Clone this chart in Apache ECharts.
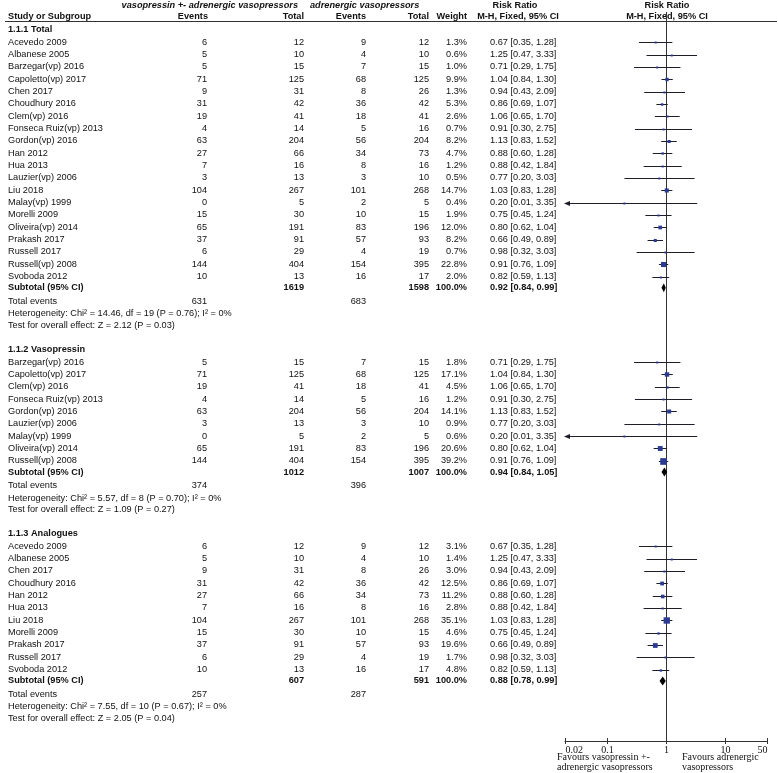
<!DOCTYPE html>
<html><head><meta charset="utf-8">
<script src="https://cdn.jsdelivr.net/npm/echarts@6/dist/echarts.min.js"></script>
<style>html,body{margin:0;padding:0;background:#fff}#c{width:778px;height:773px}</style>
</head><body><div id="c"></div>
<script>
// ---------- DATA ----------
const sectionTitles = ['1.1.1 Total', '1.1.2 Vasopressin', '1.1.3 Analogues'];

const names1 = ['Acevedo 2009','Albanese 2005','Barzegar(vp) 2016','Capoletto(vp) 2017','Chen 2017','Choudhury 2016','Clem(vp) 2016','Fonseca Ruiz(vp) 2013','Gordon(vp) 2016','Han 2012','Hua 2013','Lauzier(vp) 2006','Liu 2018','Malay(vp) 1999','Morelli 2009','Oliveira(vp) 2014','Prakash 2017','Russell 2017','Russell(vp) 2008','Svoboda 2012'];
const expEvents1 = [6,5,5,71,9,31,19,4,63,27,7,3,104,0,15,65,37,6,144,10];
const expTotal1  = [12,10,15,125,31,42,41,14,204,66,16,13,267,5,30,191,91,29,404,13];
const ctlEvents1 = [9,4,7,68,8,36,18,5,56,34,8,3,101,2,10,83,57,4,154,16];
const ctlTotal1  = [12,10,15,125,26,42,41,16,204,73,16,10,268,5,15,196,93,19,395,17];
const weights1   = [1.3,0.6,1.0,9.9,1.3,5.3,2.6,0.7,8.2,4.7,1.2,0.5,14.7,0.4,1.9,12.0,8.2,0.7,22.8,2.0];
const rr1   = [0.67,1.25,0.71,1.04,0.94,0.86,1.06,0.91,1.13,0.88,0.88,0.77,1.03,0.20,0.75,0.80,0.66,0.98,0.91,0.82];
const low1  = [0.35,0.47,0.29,0.84,0.43,0.69,0.65,0.30,0.83,0.60,0.42,0.20,0.83,0.01,0.45,0.62,0.49,0.32,0.76,0.59];
const high1 = [1.28,3.33,1.75,1.30,2.09,1.07,1.70,2.75,1.52,1.28,1.84,3.03,1.28,3.35,1.24,1.04,0.89,3.03,1.09,1.13];

const names2 = ['Barzegar(vp) 2016','Capoletto(vp) 2017','Clem(vp) 2016','Fonseca Ruiz(vp) 2013','Gordon(vp) 2016','Lauzier(vp) 2006','Malay(vp) 1999','Oliveira(vp) 2014','Russell(vp) 2008'];
const expEvents2 = [5,71,19,4,63,3,0,65,144];
const expTotal2  = [15,125,41,14,204,13,5,191,404];
const ctlEvents2 = [7,68,18,5,56,3,2,83,154];
const ctlTotal2  = [15,125,41,16,204,10,5,196,395];
const weights2   = [1.8,17.1,4.5,1.2,14.1,0.9,0.6,20.6,39.2];
const rr2   = [0.71,1.04,1.06,0.91,1.13,0.77,0.20,0.80,0.91];
const low2  = [0.29,0.84,0.65,0.30,0.83,0.20,0.01,0.62,0.76];
const high2 = [1.75,1.30,1.70,2.75,1.52,3.03,3.35,1.04,1.09];

const names3 = ['Acevedo 2009','Albanese 2005','Chen 2017','Choudhury 2016','Han 2012','Hua 2013','Liu 2018','Morelli 2009','Prakash 2017','Russell 2017','Svoboda 2012'];
const expEvents3 = [6,5,9,31,27,7,104,15,37,6,10];
const expTotal3  = [12,10,31,42,66,16,267,30,91,29,13];
const ctlEvents3 = [9,4,8,36,34,8,101,10,57,4,16];
const ctlTotal3  = [12,10,26,42,73,16,268,15,93,19,17];
const weights3   = [3.1,1.4,3.0,12.5,11.2,2.8,35.1,4.6,19.6,1.7,4.8];
const rr3   = [0.67,1.25,0.94,0.86,0.88,0.88,1.03,0.75,0.66,0.98,0.82];
const low3  = [0.35,0.47,0.43,0.69,0.60,0.42,0.83,0.45,0.49,0.32,0.59];
const high3 = [1.28,3.33,2.09,1.07,1.28,1.84,1.28,1.24,0.89,3.03,1.13];

const subExpTotal = [1619, 1012, 607];
const subCtlTotal = [1598, 1007, 591];
const subRR   = [0.92, 0.94, 0.88];
const subLow  = [0.84, 0.84, 0.78];
const subHigh = [0.99, 1.05, 0.99];
const totalExpEvents = [631, 374, 257];
const totalCtlEvents = [683, 396, 287];
const hetTexts = ['Heterogeneity: Chi\u00b2 = 14.46, df = 19 (P = 0.76); I\u00b2 = 0%',
                  'Heterogeneity: Chi\u00b2 = 5.57, df = 8 (P = 0.70); I\u00b2 = 0%',
                  'Heterogeneity: Chi\u00b2 = 7.55, df = 10 (P = 0.67); I\u00b2 = 0%'];
const testTexts = ['Test for overall effect: Z = 2.12 (P = 0.03)',
                   'Test for overall effect: Z = 1.09 (P = 0.27)',
                   'Test for overall effect: Z = 2.05 (P = 0.04)'];

const tickValues = [0.02, 0.1, 1, 10, 50];
const tickLabels = ['0.02', '0.1', '1', '10', '50'];

// ---------- LAYOUT ----------
const sections = [
  {names:names1, ee:expEvents1, et:expTotal1, ce:ctlEvents1, ct:ctlTotal1, w:weights1, rr:rr1, lo:low1, hi:high1},
  {names:names2, ee:expEvents2, et:expTotal2, ce:ctlEvents2, ct:ctlTotal2, w:weights2, rr:rr2, lo:low2, hi:high2},
  {names:names3, ee:expEvents3, et:expTotal3, ce:ctlEvents3, ct:ctlTotal3, w:weights3, rr:rr3, lo:low3, hi:high3}
];
const ROW = 12.33;
const Y_TOP = 12 / ROW, Y_AXIS = 741 / ROW;
const X_MIN = 0.02, X_MAX = 50;
const STEP = {headToStudy:1.05, study:1, toSub:0.92, toEvents:1.1, toHet:1.0, toTest:0.97, toHead:1.9};
const COL = {name:8, ee:207, et:304, ce:366, ct:429, w:467, ci:490};
const FONT = '"Liberation Sans", Arial, sans-serif';
const SERIF = '"Liberation Serif", "Times New Roman", serif';
const FS = 9.2;

const rows = [];
let yy = 29.3 / ROW;
sections.forEach((s, si) => {
  if (si > 0) yy += STEP.toHead;
  rows.push({kind:'head', si, y:yy});
  yy += STEP.headToStudy;
  s.names.forEach((n, i) => { if (i > 0) yy += STEP.study; rows.push({kind:'study', si, i, y:yy}); });
  yy += STEP.toSub; rows.push({kind:'sub', si, y:yy});
  yy += STEP.toEvents; rows.push({kind:'events', si, y:yy});
  yy += STEP.toHet; rows.push({kind:'het', si, y:yy});
  yy += STEP.toTest; rows.push({kind:'test', si, y:yy});
});

const ciText = (r, l, h) => r.toFixed(2) + ' [' + l.toFixed(2) + ', ' + h.toFixed(2) + ']';

const studyData = [], diamondData = [];
rows.forEach(r => {
  const s = sections[r.si];
  if (r.kind === 'study') studyData.push([s.rr[r.i], r.y, s.lo[r.i], s.hi[r.i], s.w[r.i]]);
  if (r.kind === 'sub') diamondData.push([subRR[r.si], r.y, subLow[r.si], subHigh[r.si]]);
});

function txt(x, y, str, align, bold, italic, font, size) {
  return {type:'text', silent:true, x:x, y:y,
    style:{text:String(str), align:align, textAlign:align, verticalAlign:'middle', textVerticalAlign:'middle',
      font:(italic?'italic ':'') + (bold?'bold ':'') + (size||FS) + 'px ' + (font||FONT), fill:'#111'}};
}

function renderText(params, api) {
  const r = rows[api.value(2)];
  const y = api.coord([1, api.value(1)])[1];
  const s = sections[r.si];
  const ch = [];
  if (r.kind === 'head') ch.push(txt(COL.name, y, sectionTitles[r.si], 'left', true));
  else if (r.kind === 'study') {
    const i = r.i;
    ch.push(txt(COL.name, y, s.names[i], 'left'));
    ch.push(txt(COL.ee, y, s.ee[i], 'right'));
    ch.push(txt(COL.et, y, s.et[i], 'right'));
    ch.push(txt(COL.ce, y, s.ce[i], 'right'));
    ch.push(txt(COL.ct, y, s.ct[i], 'right'));
    ch.push(txt(COL.w, y, s.w[i].toFixed(1) + '%', 'right'));
    ch.push(txt(COL.ci, y, ciText(s.rr[i], s.lo[i], s.hi[i]), 'left'));
  } else if (r.kind === 'sub') {
    ch.push(txt(COL.name, y, 'Subtotal (95% CI)', 'left', true));
    ch.push(txt(COL.et, y, subExpTotal[r.si], 'right', true));
    ch.push(txt(COL.ct, y, subCtlTotal[r.si], 'right', true));
    ch.push(txt(COL.w, y, '100.0%', 'right', true));
    ch.push(txt(COL.ci, y, ciText(subRR[r.si], subLow[r.si], subHigh[r.si]), 'left', true));
  } else if (r.kind === 'events') {
    ch.push(txt(COL.name, y, 'Total events', 'left'));
    ch.push(txt(COL.ee, y, totalExpEvents[r.si], 'right'));
    ch.push(txt(COL.ce, y, totalCtlEvents[r.si], 'right'));
  } else if (r.kind === 'het') {
    ch.push(txt(COL.name, y, hetTexts[r.si], 'left'));
  } else if (r.kind === 'test') {
    ch.push(txt(COL.name, y, testTexts[r.si], 'left'));
  }
  return {type:'group', children:ch};
}

function renderStudy(params, api) {
  const rr = api.value(0), y = api.value(1), lo = api.value(2), hi = api.value(3), w = api.value(4);
  const c = api.coord([rr, y]);
  const py = Math.round(c[1]) + 0.5;
  const lx = api.coord([Math.max(lo, X_MIN), y])[0];
  const hx = api.coord([Math.min(hi, X_MAX), y])[0];
  const ch = [{type:'line', shape:{x1:lx, y1:py, x2:hx, y2:py}, style:{stroke:'#1e1e2a', lineWidth:1}}];
  if (lo < X_MIN) ch.push({type:'polygon', shape:{points:[[lx-1, py], [lx+5, py-2.5], [lx+5, py+2.5]]}, style:{fill:'#1e1e2a'}});
  const sz = Math.max(2, 1.07 * Math.sqrt(w));
  ch.push({type:'rect', shape:{x:c[0]-sz/2, y:py-sz/2, width:sz, height:sz}, style:{fill:'#2b3a92'}});
  return {type:'group', children:ch};
}

function renderDiamond(params, api) {
  const rr = api.value(0), y = api.value(1);
  const c = api.coord([rr, y]);
  const lx = api.coord([api.value(2), y])[0];
  const hx = api.coord([api.value(3), y])[0];
  return {type:'polygon', shape:{points:[[lx, c[1]], [c[0], c[1]-4.5], [hx, c[1]], [c[0], c[1]+4.5]]}, style:{fill:'#000'}};
}

function renderTicks(params, api) {
  const v = api.value(0), idx = params.dataIndex;
  const c = api.coord([v, Y_AXIS]);
  const x = Math.round(c[0]) + 0.5, y = c[1];
  const ch = [{type:'line', shape:{x1:x, y1:y-3, x2:x, y2:y+3}, style:{stroke:'#333', lineWidth:1}}];
  if (v === 1) {
    const t = api.coord([1, Y_TOP])[1];
    ch.push({type:'line', shape:{x1:x, y1:t, x2:x, y2:y+3}, style:{stroke:'#333', lineWidth:1}});
  }
  const align = idx === 0 ? 'left' : (idx === tickValues.length - 1 ? 'right' : 'center');
  ch.push(txt(x, y + 9, tickLabels[idx], align, false, false, SERIF, 10));
  return {type:'group', children:ch};
}

const chart = echarts.init(document.getElementById('c'), null, {renderer:'canvas'});
const hdr = (x, y, s, align, italic) => ({type:'text', x:x, y:y, silent:true,
  style:{text:s, align:align, textAlign:align, verticalAlign:'middle', textVerticalAlign:'middle',
    font:(italic?'italic ':'') + 'bold ' + FS + 'px ' + FONT, fill:'#111'}});
const ser = (x, y, s) => ({type:'text', x:x, y:y, silent:true,
  style:{text:s, align:'left', textAlign:'left', verticalAlign:'middle', textVerticalAlign:'middle',
    font:'10px ' + SERIF, fill:'#111'}});

chart.setOption({
  animation:false,
  backgroundColor:'#fff',
  grid:{left:565, right:11, top:12, bottom:32, containLabel:false},
  xAxis:{type:'log', logBase:10, min:X_MIN, max:X_MAX,
    axisLine:{show:true, lineStyle:{color:'#333', width:1}},
    axisTick:{show:false}, axisLabel:{show:false}, splitLine:{show:false}},
  yAxis:{type:'value', inverse:true, min:Y_TOP, max:Y_AXIS, show:false},
  graphic:[
    hdr(298, 5, 'vasopressin +- adrenergic vasopressors', 'right', true),
    hdr(310, 5, 'adrenergic vasopressors', 'left', true),
    hdr(515, 5, 'Risk Ratio', 'center'),
    hdr(667, 5, 'Risk Ratio', 'center'),
    hdr(8, 16, 'Study or Subgroup', 'left'),
    hdr(208, 16, 'Events', 'right'),
    hdr(304, 16, 'Total', 'right'),
    hdr(366, 16, 'Events', 'right'),
    hdr(429, 16, 'Total', 'right'),
    hdr(467, 16, 'Weight', 'right'),
    hdr(518, 16, 'M-H, Fixed, 95% CI', 'center'),
    hdr(667, 16, 'M-H, Fixed, 95% CI', 'center'),
    {type:'line', silent:true, shape:{x1:5, y1:21.5, x2:777, y2:21.5}, style:{stroke:'#333', lineWidth:1}},
    ser(557, 757, 'Favours vasopressin +-'),
    ser(557, 767, 'adrenergic vasopressors'),
    ser(682, 757, 'Favours adrenergic'),
    ser(682, 767, 'vasopressors')
  ],
  series:[
    {type:'custom', name:'text', renderItem:renderText, clip:false, silent:true,
      data:rows.map((r, k) => [1, r.y, k]), encode:{x:0, y:1}, z:5},
    {type:'custom', name:'ticks', renderItem:renderTicks, clip:false, silent:true,
      data:tickValues.map(v => [v]), encode:{x:0}, z:3},
    {type:'custom', name:'studies', renderItem:renderStudy, clip:false, silent:true,
      data:studyData, encode:{x:0, y:1}, z:4},
    {type:'custom', name:'subtotals', renderItem:renderDiamond, clip:false, silent:true,
      data:diamondData, encode:{x:0, y:1}, z:4}
  ]
});
</script>
</body></html>
